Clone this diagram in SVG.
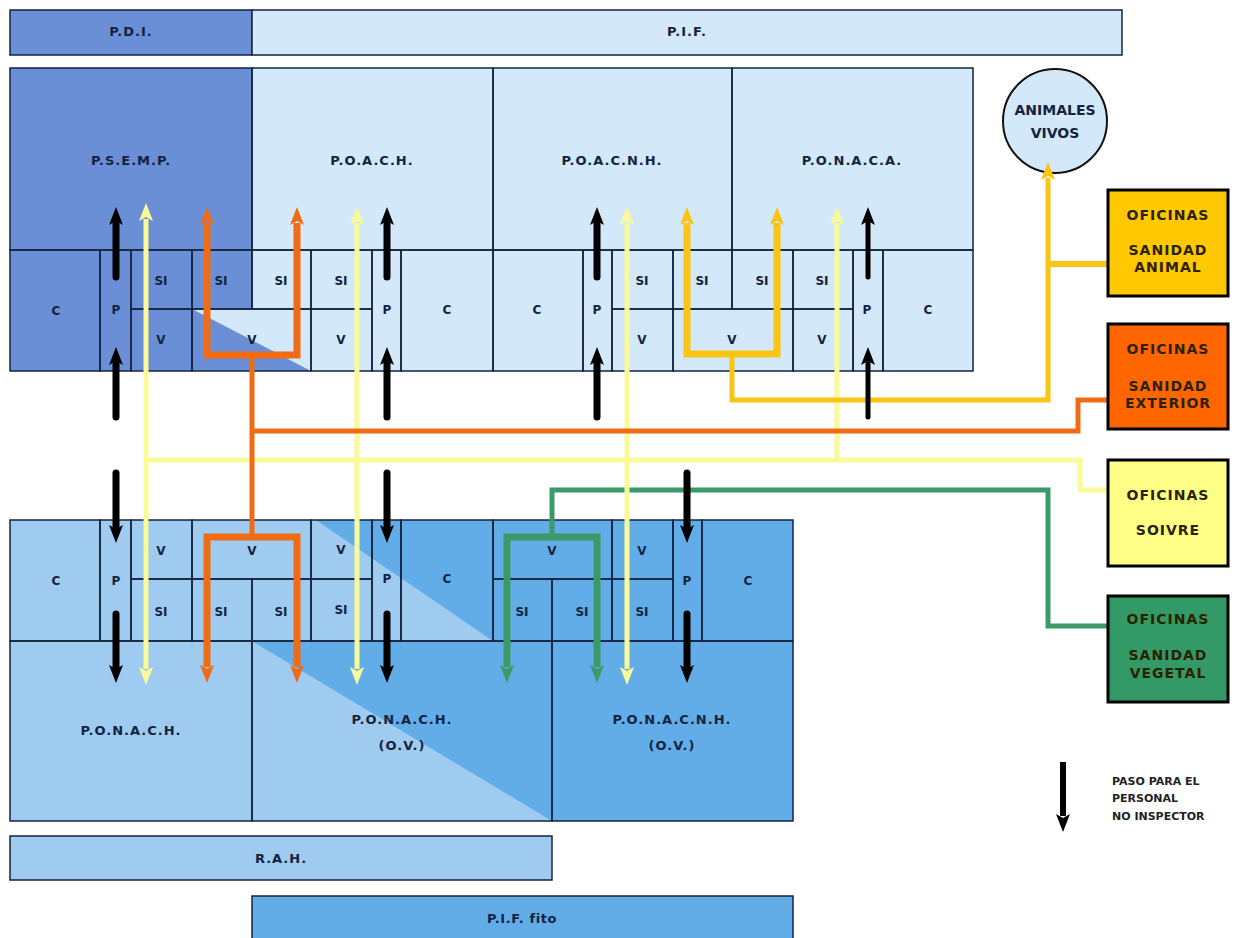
<svg xmlns="http://www.w3.org/2000/svg" width="1237" height="938" viewBox="0 0 1237 938">
<style>
text{font-family:"DejaVu Sans","Liberation Sans",sans-serif;font-weight:bold;font-size:12px;fill:#14233f;text-anchor:middle}
.h{font-size:13px;letter-spacing:1px}
.c{fill:none;stroke:#14233f;stroke-width:1.5}
.f{stroke:#14233f;stroke-width:1.5}
.d{fill:#6a8fd6}.l{fill:#d3e8f9}.m{fill:#9fcbf1}.b{fill:#62ade8}
.w{stroke:none}
.o{stroke:#000;stroke-width:3}
.t{font-size:14px;fill:#2a2200;letter-spacing:1px}
.n{font-size:11px;fill:#222;text-anchor:start}
.a{fill:none}
.k{stroke:#000;stroke-width:7;stroke-linecap:round}
.y{stroke:#fbfa98;stroke-width:5}
.r{stroke:#ef6c14;stroke-width:7}
.r5{stroke:#ef6c14;stroke-width:5}
.g{stroke:#f9c414;stroke-width:7}
.g5{stroke:#f9c414;stroke-width:5}
.v{stroke:#3a9a68;stroke-width:7}
.v5{stroke:#3a9a68;stroke-width:5}
</style>
<defs>
<marker id="hk" markerUnits="userSpaceOnUse" markerWidth="20" markerHeight="16" refX="2" refY="7" orient="auto-start-reverse"><path d="M0 0L18 7L0 14L4 7Z" fill="#000"/></marker>
<marker id="hy" markerUnits="userSpaceOnUse" markerWidth="20" markerHeight="16" refX="2" refY="7" orient="auto-start-reverse"><path d="M0 0L18 7L0 14L4 7Z" fill="#fbfa98"/></marker>
<marker id="hr" markerUnits="userSpaceOnUse" markerWidth="20" markerHeight="16" refX="2" refY="7" orient="auto-start-reverse"><path d="M0 0L18 7L0 14L4 7Z" fill="#ef6c14"/></marker>
<marker id="hg" markerUnits="userSpaceOnUse" markerWidth="20" markerHeight="16" refX="2" refY="7" orient="auto-start-reverse"><path d="M0 0L18 7L0 14L4 7Z" fill="#f9c414"/></marker>
<marker id="hv" markerUnits="userSpaceOnUse" markerWidth="20" markerHeight="16" refX="2" refY="7" orient="auto-start-reverse"><path d="M0 0L18 7L0 14L4 7Z" fill="#3a9a68"/></marker>
</defs>
<rect width="1237" height="938" fill="#fff"/>
<g id="zones">
<rect class="l w" x="10" y="68" width="963" height="303"/>
<path class="d w" d="M10 68H252V309L311 371H10Z"/>
<path class="l w" d="M192 309H311V371Z"/>
<rect class="m w" x="10" y="520" width="783" height="301"/>
<path class="b w" d="M316 520H793V821H552L252 641H493Z"/>
</g>
<g id="bars">
<g id="pdi"><rect class="d f" x="10" y="10" width="242" height="45"/><text class="h" x="131" y="36">P.D.I.</text></g>
<g id="pif"><rect class="l f" x="252" y="10" width="870" height="45"/><text class="h" x="687" y="36">P.I.F.</text></g>
<g id="rah"><rect class="m f" x="10" y="836" width="542" height="44"/><text class="h" x="281" y="863">R.A.H.</text></g>
<g id="piffito"><rect class="b f" x="252" y="896" width="541" height="46"/><text class="h" style="letter-spacing:.6px" x="522" y="923">P.I.F. fito</text></g>
</g>
<g id="upper">
<g id="psemp"><rect class="c" x="10" y="68" width="242" height="182"/><text class="h" x="131" y="165">P.S.E.M.P.</text></g>
<g id="poach"><rect class="c" x="252" y="68" width="241" height="182"/><text class="h" x="372" y="165">P.O.A.C.H.</text></g>
<g id="poacnh"><rect class="c" x="493" y="68" width="239" height="182"/><text class="h" x="612" y="165">P.O.A.C.N.H.</text></g>
<g id="ponaca"><rect class="c" x="732" y="68" width="241" height="182"/><text class="h" x="852" y="165">P.O.N.A.C.A.</text></g>
<g id="u1"><rect class="c" x="10" y="250" width="90" height="121"/><text x="56" y="315">C</text></g>
<g id="u2"><rect class="c" x="100" y="250" width="31" height="121"/><text x="116" y="314">P</text></g>
<g id="u3"><rect class="c" x="131" y="250" width="61" height="59"/><text x="161" y="285">SI</text></g>
<g id="u4"><rect class="c" x="131" y="309" width="61" height="62"/><text x="161" y="344">V</text></g>
<g id="u5"><rect class="c" x="192" y="250" width="60" height="59"/><text x="221" y="285">SI</text></g>
<g id="u6"><rect class="c" x="252" y="250" width="59" height="59"/><text x="281" y="285">SI</text></g>
<g id="u7"><rect class="c" x="192" y="309" width="119" height="62"/><text x="252" y="344">V</text></g>
<g id="u8"><rect class="c" x="311" y="250" width="61" height="59"/><text x="341" y="285">SI</text></g>
<g id="u9"><rect class="c" x="311" y="309" width="61" height="62"/><text x="341" y="344">V</text></g>
<g id="u10"><rect class="c" x="372" y="250" width="29" height="121"/><text x="387" y="314">P</text></g>
<g id="u11"><rect class="c" x="401" y="250" width="92" height="121"/><text x="447" y="314">C</text></g>
<g id="u12"><rect class="c" x="493" y="250" width="90" height="121"/><text x="537" y="314">C</text></g>
<g id="u13"><rect class="c" x="583" y="250" width="29" height="121"/><text x="597" y="314">P</text></g>
<g id="u14"><rect class="c" x="612" y="250" width="61" height="59"/><text x="642" y="285">SI</text></g>
<g id="u15"><rect class="c" x="612" y="309" width="61" height="62"/><text x="642" y="344">V</text></g>
<g id="u16"><rect class="c" x="673" y="250" width="59" height="59"/><text x="702" y="285">SI</text></g>
<g id="u17"><rect class="c" x="732" y="250" width="61" height="59"/><text x="762" y="285">SI</text></g>
<g id="u18"><rect class="c" x="673" y="309" width="120" height="62"/><text x="732" y="344">V</text></g>
<g id="u19"><rect class="c" x="793" y="250" width="60" height="59"/><text x="822" y="285">SI</text></g>
<g id="u20"><rect class="c" x="793" y="309" width="60" height="62"/><text x="822" y="344">V</text></g>
<g id="u21"><rect class="c" x="853" y="250" width="30" height="121"/><text x="867" y="314">P</text></g>
<g id="u22"><rect class="c" x="883" y="250" width="90" height="121"/><text x="928" y="314">C</text></g>
</g>
<g id="lower">
<g id="l1"><rect class="c" x="10" y="520" width="90" height="121"/><text x="56" y="585">C</text></g>
<g id="l2"><rect class="c" x="100" y="520" width="31" height="121"/><text x="116" y="585">P</text></g>
<g id="l3"><rect class="c" x="131" y="520" width="61" height="59"/><text x="161" y="555">V</text></g>
<g id="l4"><rect class="c" x="131" y="579" width="61" height="62"/><text x="161" y="616">SI</text></g>
<g id="l5"><rect class="c" x="192" y="520" width="119" height="59"/><text x="252" y="555">V</text></g>
<g id="l6"><rect class="c" x="192" y="579" width="60" height="62"/><text x="221" y="616">SI</text></g>
<g id="l7"><rect class="c" x="252" y="579" width="59" height="62"/><text x="281" y="616">SI</text></g>
<g id="l8"><rect class="c" x="311" y="520" width="61" height="59"/><text x="341" y="554">V</text></g>
<g id="l9"><rect class="c" x="311" y="579" width="61" height="62"/><text x="341" y="614">SI</text></g>
<g id="l10"><rect class="c" x="372" y="520" width="29" height="121"/><text x="387" y="583">P</text></g>
<g id="l11"><rect class="c" x="401" y="520" width="92" height="121"/><text x="447" y="583">C</text></g>
<g id="l12"><rect class="c" x="493" y="520" width="119" height="59"/><text x="552" y="555">V</text></g>
<g id="l13"><rect class="c" x="493" y="579" width="59" height="62"/><text x="522" y="616">SI</text></g>
<g id="l14"><rect class="c" x="552" y="579" width="60" height="62"/><text x="582" y="616">SI</text></g>
<g id="l15"><rect class="c" x="612" y="520" width="61" height="59"/><text x="642" y="555">V</text></g>
<g id="l16"><rect class="c" x="612" y="579" width="61" height="62"/><text x="642" y="616">SI</text></g>
<g id="l17"><rect class="c" x="673" y="520" width="29" height="121"/><text x="687" y="585">P</text></g>
<g id="l18"><rect class="c" x="702" y="520" width="91" height="121"/><text x="748" y="585">C</text></g>
<g id="ponach"><rect class="c" x="10" y="641" width="242" height="180"/><text class="h" x="131" y="735">P.O.N.A.C.H.</text></g>
<g id="ponachov"><rect class="c" x="252" y="641" width="300" height="180"/><text class="h" x="402" y="724">P.O.N.A.C.H.</text><text class="h" x="402" y="750">(O.V.)</text></g>
<g id="ponacnhov"><rect class="c" x="552" y="641" width="241" height="180"/><text class="h" x="672" y="724">P.O.N.A.C.N.H.</text><text class="h" x="672" y="750">(O.V.)</text></g>
</g>
<g id="animales"><circle cx="1055" cy="121" r="52" class="l" stroke="#111" stroke-width="2"/><text x="1055" y="115" style="font-size:14px">ANIMALES</text><text x="1055" y="138" style="font-size:14px">VIVOS</text></g>
<g id="connectors" class="a">
<path class="v5" d="M1108 626H1048V490H552V537"/>
<path class="v" marker-start="url(#hv)" marker-end="url(#hv)" d="M507 667V537H597V667"/>
<path class="y" d="M1108 490H1080V460H146"/>
<path class="y" marker-end="url(#hy)" d="M837 460V223"/>
<path class="y" marker-start="url(#hy)" marker-end="url(#hy)" d="M146 219V669"/>
<path class="y" marker-start="url(#hy)" marker-end="url(#hy)" d="M357 223V669"/>
<path class="y" marker-start="url(#hy)" marker-end="url(#hy)" d="M627 223V669"/>
<path class="g5" marker-end="url(#hg)" d="M732 354V400H1048V178"/>
<path class="g5" style="stroke-width:6" d="M1048 264H1108"/>
<path class="g" marker-start="url(#hg)" marker-end="url(#hg)" d="M687 223V354H777V223"/>
<path class="r5" d="M252 355V537M252 431H1078V400H1108"/>
<path class="r" marker-start="url(#hr)" marker-end="url(#hr)" d="M207 223V355H297V223"/>
<path class="r" marker-start="url(#hr)" marker-end="url(#hr)" d="M207 667V537H297V667"/>
<path class="k" marker-end="url(#hk)" d="M116 277V223"/><path class="k" marker-end="url(#hk)" d="M116 417V363"/>
<path class="k" marker-end="url(#hk)" d="M387 277V223"/><path class="k" marker-end="url(#hk)" d="M387 417V363"/>
<path class="k" marker-end="url(#hk)" d="M597 277V223"/><path class="k" marker-end="url(#hk)" d="M597 417V363"/>
<path class="k" style="stroke-width:5" marker-end="url(#hk)" d="M868 277V223"/><path class="k" style="stroke-width:5" marker-end="url(#hk)" d="M868 417V363"/>
<path class="k" marker-end="url(#hk)" d="M116 473V527"/><path class="k" marker-end="url(#hk)" d="M116 614V667"/>
<path class="k" marker-end="url(#hk)" d="M387 473V527"/><path class="k" marker-end="url(#hk)" d="M387 614V667"/>
<path class="k" marker-end="url(#hk)" d="M687 473V527"/><path class="k" marker-end="url(#hk)" d="M687 614V667"/>
<path class="k" style="stroke-width:6;stroke-linecap:butt" marker-end="url(#hk)" d="M1063 762V816"/>
</g>
<g id="of-animal"><rect class="o" x="1108" y="190" width="120" height="106" fill="#ffc800"/><text class="t" x="1168" y="220">OFICINAS</text><text class="t" x="1168" y="255">SANIDAD</text><text class="t" x="1168" y="272">ANIMAL</text></g>
<g id="of-exterior"><rect class="o" x="1108" y="324" width="120" height="105" fill="#ff6600"/><text class="t" x="1168" y="354">OFICINAS</text><text class="t" x="1168" y="391">SANIDAD</text><text class="t" x="1168" y="408">EXTERIOR</text></g>
<g id="of-soivre"><rect class="o" x="1108" y="460" width="120" height="106" fill="#ffff88"/><text class="t" x="1168" y="500">OFICINAS</text><text class="t" x="1168" y="535">SOIVRE</text></g>
<g id="of-vegetal"><rect class="o" x="1108" y="596" width="120" height="106" fill="#339966"/><text class="t" x="1168" y="624">OFICINAS</text><text class="t" x="1168" y="660">SANIDAD</text><text class="t" x="1168" y="678">VEGETAL</text></g>
<g id="legend"><text class="n" x="1112" y="785">PASO PARA EL</text><text class="n" x="1112" y="802">PERSONAL</text><text class="n" x="1112" y="820">NO INSPECTOR</text></g>
</svg>
